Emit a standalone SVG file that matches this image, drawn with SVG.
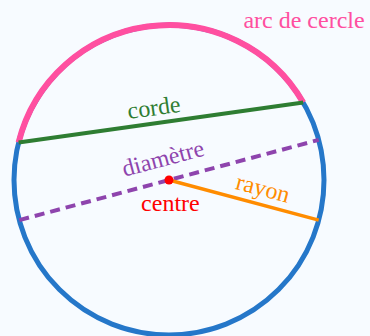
<svg xmlns="http://www.w3.org/2000/svg" width="370" height="336" viewBox="0 0 370 336">
<style>
text{font-family:"Liberation Serif","Times New Roman",serif;font-size:24px;text-anchor:middle}
.circ{fill:none;stroke:#2577c9;stroke-width:5}
.arc{fill:none;stroke:#ff4fa0;stroke-width:6}
.chord{stroke:#2e7d32;stroke-width:4}
.diam{stroke:#8e44ad;stroke-width:4;stroke-dasharray:10 6}
.ray{stroke:#ff8c00;stroke-width:3.5}
</style>
<rect width="370" height="336" fill="#f7fbff"/>
<g id="cercle"><circle class="circ" cx="169" cy="180" r="155"/></g>
<g id="arc"><path class="arc" d="M18.6 142.5 A155 155 0 0 1 303.2 102.5"/>
<text x="304" y="28" fill="#ff4fa0">arc de cercle</text></g>
<g id="connectors">
<line id="corde-line" class="chord" x1="18.6" y1="142.5" x2="303.2" y2="102.5"/>
<line id="diametre-line" class="diam" x1="19.3" y1="220.1" x2="318.7" y2="139.9"/>
<line id="rayon-line" class="ray" x1="169" y1="180" x2="318.7" y2="220.1"/>
</g>
<g id="corde"><text x="155" y="115.4" fill="#2e7d32" transform="rotate(-8 155 115.4)">corde</text></g>
<g id="diametre"><text x="165" y="166" fill="#8e44ad" transform="rotate(-15 165 166)">diamètre</text></g>
<g id="rayon"><text x="261" y="195.8" fill="#ff8c00" transform="rotate(15 261 195.8)">rayon</text></g>
<g id="centre"><circle cx="169" cy="180" r="4.5" fill="#ff0000"/>
<text x="170.4" y="211" fill="#ff0000">centre</text></g>
</svg>
